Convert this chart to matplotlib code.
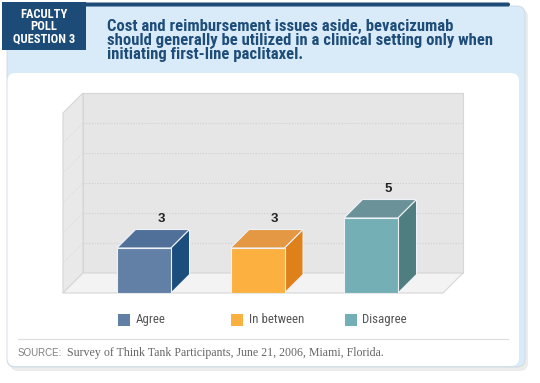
import numpy as np
import matplotlib
matplotlib.use("Agg")
import matplotlib.pyplot as plt
from matplotlib import font_manager
from matplotlib.patches import Rectangle, Polygon, FancyBboxPatch
from matplotlib.transforms import blended_transform_factory

# ---- data ----
categories = ["Agree", "In between", "Disagree"]
votes = [3, 3, 5]
front_colors = ["#6280a6", "#fbb040", "#74afb6"]
top_colors = ["#50709a", "#e59843", "#6a9298"]
side_colors = ["#1b4e7d", "#df811b", "#4e7e80"]
y_max = 12
grid_values = [2, 4, 6, 8, 10]

tag_lines = ["FACULTY", "POLL", "QUESTION 3"]
title_lines = ["Cost and reimbursement issues aside, bevacizumab",
               "should generally be utilized in a clinical setting only when",
               "initiating first-line paclitaxel."]
source_label = "SOURCE:"
source_text = "Survey of Think Tank Participants, June 21, 2006, Miami, Florida."

navy = "#1d4b78"
light_blue = "#d9ebf8"

# a condensed sans if one is installed, plain Liberation Sans otherwise
names = {f.name for f in font_manager.fontManager.ttflist}
narrow = "Liberation Sans"
for cand in ["Roboto Condensed", "Archivo Narrow", "Asap Condensed", "Liberation Sans Narrow"]:
    if cand in names:
        narrow = cand
        break

fig = plt.figure(figsize=(5.4, 3.83), dpi=100)
renderer = fig.canvas.get_renderer()


def fit(txt, width_px, max_size):
    # shrink/grow the font so the text spans about width_px pixels
    w = txt.get_window_extent(renderer).width
    txt.set_fontsize(min(max_size, txt.get_fontsize() * width_px / w))


# background panels, drawn in pixel units
bg = fig.add_axes([0, 0, 1, 1])
bg.set_xlim(0, 540)
bg.set_ylim(383, 0)
bg.axis("off")

bg.add_patch(FancyBboxPatch((10, 9), 518, 362, boxstyle="round,pad=0,rounding_size=8",
                            fc="#ececec", ec="none"))
bg.add_patch(FancyBboxPatch((7, 6), 518, 361, boxstyle="round,pad=0,rounding_size=8",
                            fc=light_blue, ec="#cdd8e0", lw=0.6))
bg.add_patch(FancyBboxPatch((80, 2.5), 430, 4, boxstyle="round,pad=0,rounding_size=2",
                            fc=navy, ec="none"))
bg.add_patch(FancyBboxPatch((7.5, 73), 511.5, 293, boxstyle="round,pad=0,rounding_size=8",
                            fc="white", ec="none"))
bg.add_patch(Rectangle((2, 2), 84, 48, fc=navy, ec="none"))

tags = [bg.text(44, 14 + 12.5 * i, line, ha="center", va="center", color="white",
                fontsize=8, fontweight="bold", family=narrow)
        for i, line in enumerate(tag_lines)]
fit(tags[2], 62, 9.5)
for t in tags:
    t.set_fontsize(tags[2].get_fontsize())

titles = [bg.text(107, 26 + 14.5 * i, line, ha="left", va="center", color="#1f4d7a",
                  fontsize=10, fontweight="bold", family=narrow)
          for i, line in enumerate(title_lines)]
fit(titles[1], 386, 12)
for t in titles:
    t.set_fontsize(titles[1].get_fontsize())

bg.plot([18, 508], [339, 339], color="#dcdcdc", lw=0.8)
bg.text(18, 353, source_label, ha="left", va="center", color="#808080",
        fontsize=7, family="Liberation Sans")
src = bg.text(67, 353, source_text, ha="left", va="center", color="#666666",
              fontsize=8, family="Liberation Serif")
fit(src, 315, 9)

# ---- 3D-looking bar chart ----
ax = fig.add_axes([63 / 540, 90 / 383, 380 / 540, 180 / 383])
x_lo, x_hi = -0.714, 2.634
ax.set_xlim(x_lo, x_hi)
ax.set_ylim(0, y_max)
ax.axis("off")

ux = (x_hi - x_lo) / 380.0   # data units per pixel
uy = y_max / 180.0
wdx, wdy = 20 * ux, 20 * uy
bdx, bdy = 18.5 * ux, 18.5 * uy
bar_w = 54 * ux
edge = "#d6d6d6"

ax.add_patch(Rectangle((x_lo + wdx, wdy), x_hi - x_lo, y_max, fc="#e6e6e6",
                       ec=edge, lw=0.8, clip_on=False, zorder=1))
ax.add_patch(Polygon([(x_lo, 0), (x_lo + wdx, wdy), (x_lo + wdx, y_max + wdy), (x_lo, y_max)],
                     closed=True, fc="#e9e9e9", ec=edge, lw=0.8, clip_on=False, zorder=1))
ax.add_patch(Polygon([(x_lo, 0), (x_hi, 0), (x_hi + wdx, wdy), (x_lo + wdx, wdy)],
                     closed=True, fc="#f3f3f3", ec=edge, lw=0.8, clip_on=False, zorder=2))

ax.hlines([v + wdy for v in grid_values], x_lo + wdx, x_hi + wdx, colors="#d0d0d0",
          linestyles=(0, (1, 1.5)), lw=0.8, zorder=1.5, clip_on=False)
for v in grid_values:
    ax.plot([x_lo, x_lo + wdx], [v, v + wdy], color="#d8d8d8", lw=0.6,
            ls=(0, (1, 1.5)), zorder=1.5, clip_on=False)

x = np.arange(len(categories))
ax.bar(x, votes, width=bar_w, color=front_colors, edgecolor="#eef2f6", lw=0.8, zorder=4)
for xi, v, tc, sc in zip(x, votes, top_colors, side_colors):
    l, r = xi - bar_w / 2, xi + bar_w / 2
    ax.add_patch(Polygon([(l, v), (r, v), (r + bdx, v + bdy), (l + bdx, v + bdy)],
                         closed=True, fc=tc, ec="#eef2f6", lw=0.8, zorder=3))
    ax.add_patch(Polygon([(r, 0), (r + bdx, bdy), (r + bdx, v + bdy), (r, v)],
                         closed=True, fc=sc, ec="#eef2f6", lw=0.8, zorder=3))
    ax.text(xi + 0.15, v + bdy + 0.67, str(v), ha="center", va="center",
            fontsize=9.5, fontweight="bold", color="#222222", family="Liberation Sans")

# legend under the bars
trans = blended_transform_factory(ax.transData, ax.transAxes)
leg_texts = []
for xi, name, c in zip(x, categories, front_colors):
    l = xi - bar_w / 2
    ax.add_patch(Rectangle((l + 0.5 * ux, -0.183), 12 * ux, 11.5 / 180, transform=trans,
                           fc=c, ec="none", clip_on=False))
    leg_texts.append(ax.text(l + 18.3 * ux, -0.148, name, transform=trans, ha="left",
                             va="center", fontsize=9, color="#555555", family=narrow))
fit(leg_texts[1], 55, 10)
for t in leg_texts:
    t.set_fontsize(leg_texts[1].get_fontsize())

fig.savefig("out.png", dpi=100)
